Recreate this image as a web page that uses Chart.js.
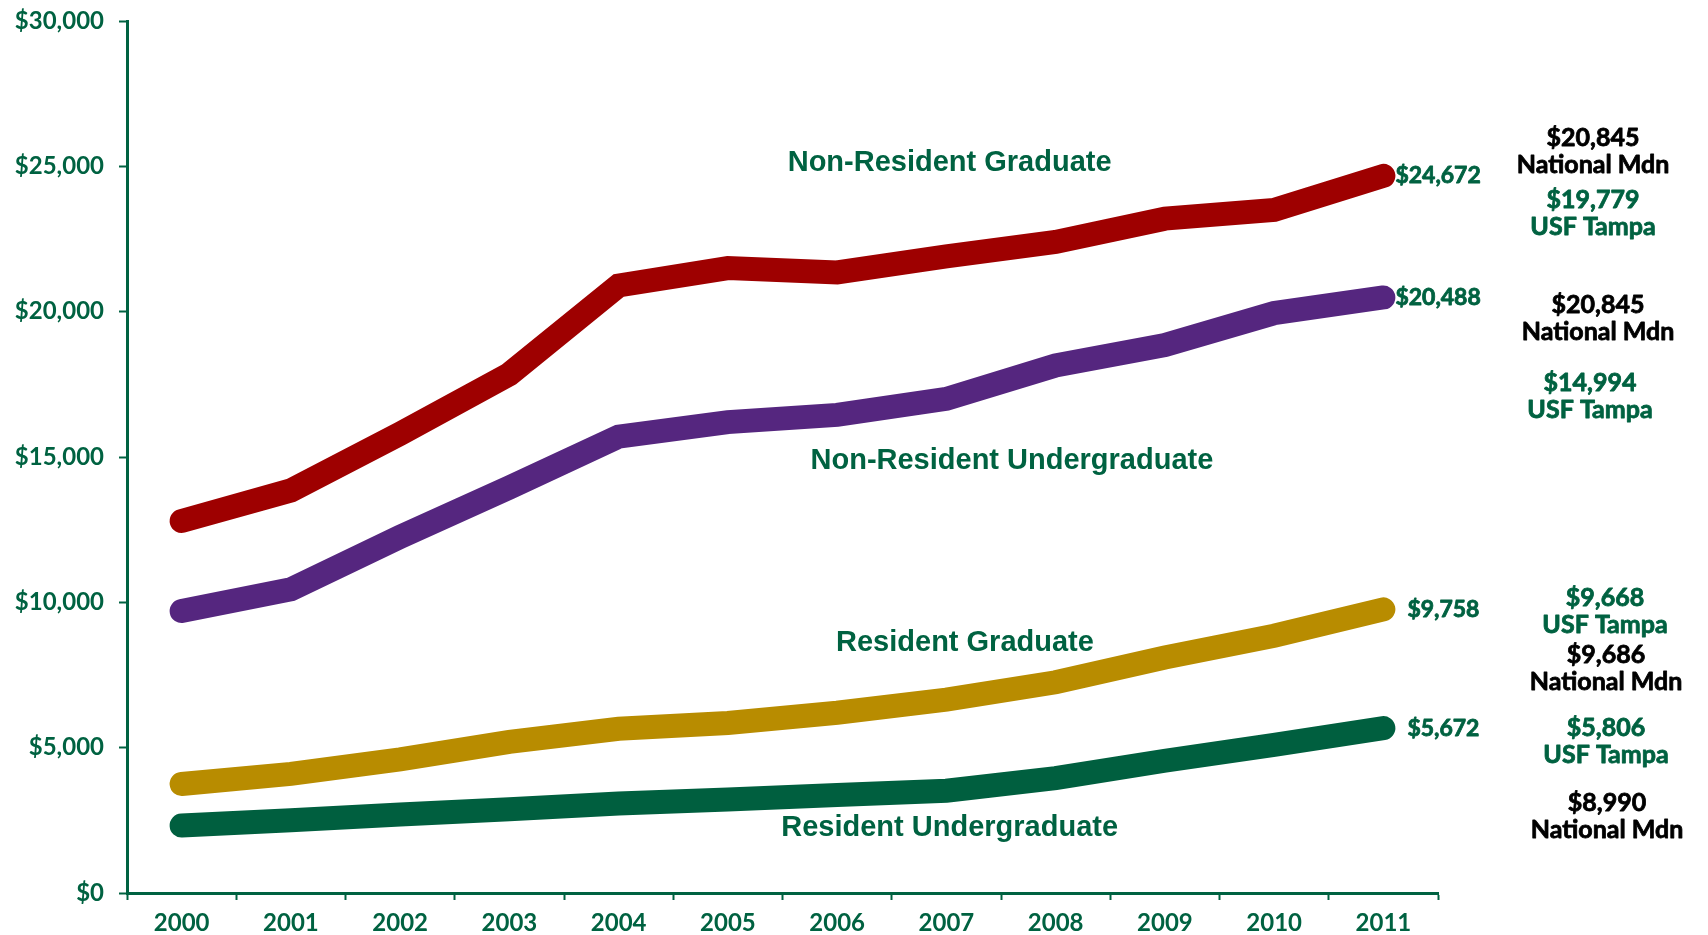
<!DOCTYPE html>
<html>
<head>
<meta charset="utf-8">
<script src="https://cdn.jsdelivr.net/npm/chart.js@4/dist/chart.umd.min.js"></script>
<style>
  body { margin: 0; background: #fff; }
  #wrap { width: 1708px; height: 935px; }
</style>
</head>
<body>
<div id="wrap"><canvas id="tuitionChart" width="1708" height="935"></canvas></div>
<script>
const years = ['2000','2001','2002','2003','2004','2005','2006','2007','2008','2009','2010','2011']
const nonResGrad = [12800, 13850, 15800, 17850, 20900, 21500, 21350, 21900, 22400, 23200, 23500, 24672]
const nonResUndergrad = [9700, 10450, 12250, 13950, 15700, 16200, 16450, 17000, 18150, 18850, 19950, 20488]
const resGrad = [3750, 4100, 4600, 5200, 5650, 5850, 6200, 6650, 7250, 8100, 8850, 9758]
const resUndergrad = [2320, 2500, 2700, 2880, 3080, 3220, 3370, 3520, 3950, 4550, 5100, 5672]
const yTicks = [0, 5000, 10000, 15000, 20000, 25000, 30000]

const seriesNames = ['Non-Resident Graduate', 'Non-Resident Undergraduate', 'Resident Graduate', 'Resident Undergraduate']
const seriesColors = ['#9E0000', '#55267F', '#B88C00', '#005F3F']

// comparison notes in the right column: [amount, kind]
const notes = [
    ['$20,845', 'National Mdn'], ['$19,779', 'USF Tampa'],
    ['$20,845', 'National Mdn'], ['$14,994', 'USF Tampa'],
    ['$9,668', 'USF Tampa'], ['$9,686', 'National Mdn'],
    ['$5,806', 'USF Tampa'], ['$8,990', 'National Mdn']
]
// pixel centers for each note (amount line; kind line sits 27px below)
const notePos = [[1593, 138], [1593, 200], [1598, 305], [1590, 383], [1605, 598], [1606, 655], [1606, 728], [1607, 803]]
// series name labels, placed on the scales (category index, value)
const namePos = [[7.03, 25100], [7.6, 14850], [7.17, 8600], [7.03, 2220]]

const green = '#006241'

// bold Lato drawn with a thin outline so it reads as heavy as the original face
function heavyText(ctx, str, x, y) {
    ctx.fillText(str, x, y)
    ctx.strokeText(str, x, y)
}

const textPlugin = {
    id: 'textPlugin',
    afterDatasetsDraw(chart) {
        const ctx = chart.ctx
        const xs = chart.scales.x
        const ys = chart.scales.y
        ctx.save()
        ctx.textBaseline = 'middle'
        ctx.lineWidth = 0.8
        ctx.lineJoin = 'round'

        // end-of-line values
        ctx.font = 'bold 23px Lato'
        ctx.fillStyle = green
        ctx.strokeStyle = green
        ctx.textAlign = 'left'
        chart.data.datasets.forEach((ds, i) => {
            const meta = chart.getDatasetMeta(i)
            const pt = meta.data[meta.data.length - 1]
            const v = ds.data[ds.data.length - 1]
            const gap = i < 2 ? 12 : 24
            heavyText(ctx, '$' + v.toLocaleString('en-US'), pt.x + gap, pt.y)
        })

        // series names
        ctx.font = 'bold 29px "Liberation Sans"'
        ctx.textAlign = 'center'
        seriesNames.forEach((name, i) => {
            const px = xs.getPixelForValue(0) + namePos[i][0] * (xs.getPixelForValue(1) - xs.getPixelForValue(0))
            ctx.fillText(name, px, ys.getPixelForValue(namePos[i][1]))
        })

        // right column notes
        ctx.font = 'bold 25px Lato'
        notes.forEach((n, i) => {
            const col = n[1] === 'USF Tampa' ? green : '#000'
            ctx.fillStyle = col
            ctx.strokeStyle = col
            heavyText(ctx, n[0], notePos[i][0], notePos[i][1])
            heavyText(ctx, n[1], notePos[i][0], notePos[i][1] + 27)
        })
        ctx.restore()
    }
}

const allSeries = [nonResGrad, nonResUndergrad, resGrad, resUndergrad]

let data = {
    labels: years,
    datasets: allSeries.map((s, i) => ({
        label: seriesNames[i],
        data: s,
        borderColor: seriesColors[i],
        backgroundColor: seriesColors[i],
        borderWidth: 24,
        borderCapStyle: 'round',
        borderJoinStyle: 'miter',
        pointRadius: 0,
        tension: 0,
        fill: false
    }))
}

const tickFont = { family: 'Lato', weight: 'bold', size: 24 }

let options = {
    responsive: false,
    animation: false,
    layout: { padding: { top: 21, right: 270, left: 0, bottom: 0 } },
    plugins: {
        legend: { display: false },
        tooltip: { enabled: false }
    },
    scales: {
        x: {
            offset: true,
            grid: {
                offset: true,
                drawOnChartArea: false,
                drawTicks: true,
                tickLength: 7,
                tickColor: green,
                tickWidth: 2
            },
            border: { color: green, width: 3 },
            ticks: {
                color: green,
                font: tickFont,
                padding: 9,
                maxRotation: 0
            },
            afterFit: (scale) => {
                scale.height = 42
                scale.paddingLeft = 0
                scale.paddingRight = 0
            }
        },
        y: {
            min: 0,
            max: 30000,
            afterBuildTicks: (scale) => { scale.ticks = yTicks.map(v => ({ value: v })) },
            grid: {
                drawOnChartArea: false,
                drawTicks: true,
                tickLength: 8,
                tickColor: green,
                tickWidth: 2
            },
            border: { color: green, width: 3 },
            ticks: {
                color: green,
                font: tickFont,
                padding: 15,
                callback: (v) => '$' + Number(v).toLocaleString('en-US')
            },
            afterFit: (scale) => {
                scale.width = 127
                scale.paddingTop = 0
                scale.paddingBottom = 0
            }
        }
    }
}

let ctx = document.getElementById('tuitionChart')
let tuitionChart = new Chart(ctx, {
    type: 'line',
    data: data,
    options: options,
    plugins: [textPlugin]
})
</script>
</body>
</html>
